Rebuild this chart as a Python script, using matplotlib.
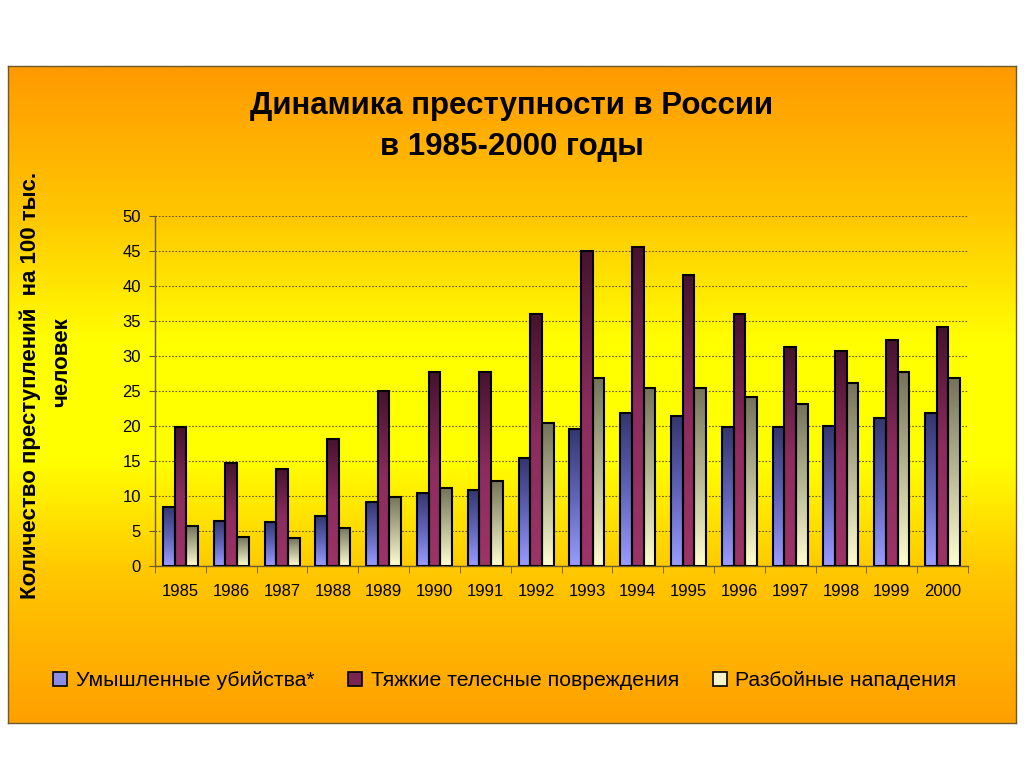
import numpy as np
import matplotlib.pyplot as plt
from matplotlib.colors import LinearSegmentedColormap
from matplotlib.patches import Patch

plt.rcParams['font.family'] = ['Liberation Sans', 'DejaVu Sans']

years = ['1985', '1986', '1987', '1988', '1989', '1990', '1991', '1992',
         '1993', '1994', '1995', '1996', '1997', '1998', '1999', '2000']
ubiystva = [8.5, 6.5, 6.3, 7.1, 9.1, 10.5, 10.9, 15.4,
            19.6, 21.8, 21.4, 19.8, 19.8, 20.0, 21.1, 21.8]
tyazhkie = [19.9, 14.7, 13.9, 18.2, 25.0, 27.7, 27.7, 36.0,
            45.0, 45.6, 41.6, 36.0, 31.3, 30.7, 32.3, 34.1]
razboi = [5.7, 4.1, 4.0, 5.5, 9.9, 11.1, 12.2, 20.4,
          26.9, 25.5, 25.5, 24.1, 23.1, 26.1, 27.7, 26.9]

series_names = ['Умышленные убийства*', 'Тяжкие телесные повреждения', 'Разбойные нападения']
# градиенты: снизу -> сверху
grad_colors = [['#9a9cff', '#6064b8', '#34366e'],
               ['#9c3468', '#8c2c5e', '#45132e'],
               ['#ffffd0', '#b8b894', '#74735a']]
legend_colors = ['#8a8ce6', '#7a2550', '#f4f4c8']

fig = plt.figure(figsize=(10.24, 7.68), dpi=100)
fig.patch.set_facecolor('white')

# фон - оранжево-желтый градиент
bg = fig.add_axes([8 / 1024, 1 - 723 / 768, 1008 / 1024, 657 / 768])
bg_cmap = LinearSegmentedColormap.from_list(
    'bg', [(0.0, '#ff9a00'), (0.23, '#ffc800'), (0.42, '#ffff00'),
           (0.6, '#ffff00'), (0.77, '#ffc800'), (1.0, '#ffa000')])
bg.imshow(np.linspace(0, 1, 300).reshape(-1, 1), cmap=bg_cmap, aspect='auto',
          extent=[0, 1, 0, 1], origin='upper')
bg.set_xticks([])
bg.set_yticks([])
for s in bg.spines.values():
    s.set_color('#6b5a2a')
    s.set_linewidth(1)

ax = fig.add_axes([155 / 1024, 1 - 566 / 768, 813 / 1024, 350 / 768])
ax.set_facecolor('none')

x = np.arange(len(years))
w = 0.23
grad = np.linspace(0, 1, 256).reshape(-1, 1)
for k, vals in enumerate([ubiystva, tyazhkie, razboi]):
    bars = ax.bar(x + (k - 1) * w, vals, width=w, facecolor='none',
                  edgecolor='black', linewidth=1.5, zorder=3)
    cmap = LinearSegmentedColormap.from_list('c%d' % k, grad_colors[k])
    for b in bars:
        ax.imshow(grad, cmap=cmap, origin='lower', aspect='auto', zorder=2,
                  extent=[b.get_x(), b.get_x() + b.get_width(), 0, b.get_height()])

ax.set_xlim(-0.5, len(years) - 0.5)
ax.set_ylim(0, 50)
ax.set_yticks(range(0, 51, 5))
ax.set_xticks(x)
ax.set_xticklabels(years)
ax.set_xticks(np.arange(-0.5, len(years), 1), minor=True)
ax.tick_params(axis='x', which='major', length=0, pad=13, labelsize=12)
ax.tick_params(axis='x', which='minor', length=5, color='#6b5a2a', direction='out')
ax.tick_params(axis='y', length=4, color='#6b5a2a', labelsize=12, pad=6)
ax.yaxis.grid(True, linestyle=(0, (1.5, 1.5)), color='#6b5a2a', linewidth=0.8, zorder=1)
ax.set_axisbelow(True)
for s in ['top', 'right']:
    ax.spines[s].set_visible(False)
for s in ['left', 'bottom']:
    ax.spines[s].set_color('#6b5a2a')
    ax.spines[s].set_linewidth(1)

fig.text(512 / 1024, 1 - 106 / 768, 'Динамика преступности в России',
         ha='center', va='center', fontsize=22.5, fontweight='bold')
fig.text(512 / 1024, 1 - 147 / 768, 'в 1985-2000 годы',
         ha='center', va='center', fontsize=22.5, fontweight='bold')

fig.text(30 / 1024, 1 - 385 / 768, 'Количество преступлений  на 100 тыс.',
         rotation=90, ha='center', va='center', fontsize=16, fontweight='bold')
fig.text(62 / 1024, 1 - 362 / 768, 'человек',
         rotation=90, ha='center', va='center', fontsize=16, fontweight='bold')

handles = [Patch(facecolor=c, edgecolor='black', linewidth=1.2) for c in legend_colors]
fig.legend(handles, series_names, loc='center', bbox_to_anchor=(505 / 1024, 1 - 681 / 768),
           ncol=3, frameon=False, fontsize=15.3, handlelength=0.65, handleheight=0.65,
           handletextpad=0.4, columnspacing=1.6)

fig.savefig('out.png', dpi=100)
